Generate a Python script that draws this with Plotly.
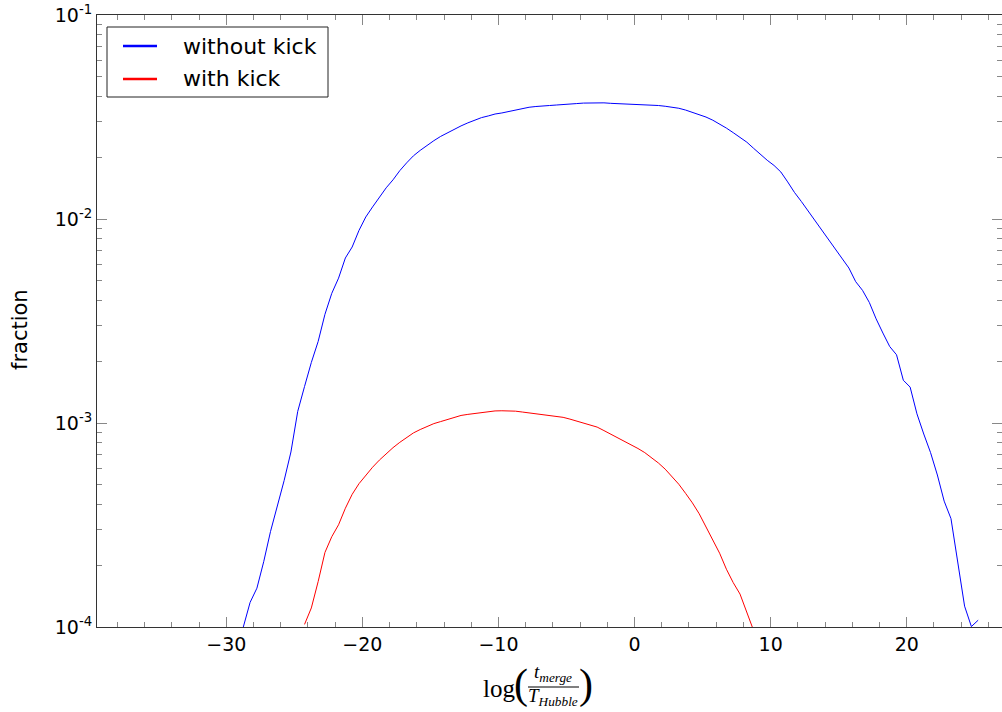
import numpy as np
import plotly.graph_objects as go

# ---------------- data ----------------
bin_width = 0.5
blue_first_center = -28.75
blue_fraction = [
    1.00e-4,
    1.32e-4, 1.55e-4, 2.09e-4, 2.94e-4, 3.88e-4, 5.22e-4, 7.21e-4, 1.14e-3,
    1.51e-3, 1.98e-3, 2.51e-3, 3.41e-3, 4.32e-3, 5.13e-3, 6.44e-3, 7.29e-3,
    8.79e-3, 1.023e-2, 1.146e-2, 1.282e-2, 1.422e-2, 1.556e-2, 1.726e-2, 1.884e-2,
    2.04e-2, 2.17e-2, 2.30e-2, 2.42e-2, 2.54e-2, 2.65e-2, 2.75e-2, 2.86e-2,
    2.96e-2, 3.05e-2, 3.14e-2, 3.20e-2, 3.27e-2, 3.31e-2, 3.37e-2, 3.42e-2,
    3.48e-2, 3.53e-2, 3.56e-2, 3.57e-2, 3.60e-2, 3.62e-2, 3.65e-2, 3.66e-2,
    3.68e-2, 3.70e-2, 3.71e-2, 3.72e-2, 3.71e-2, 3.69e-2, 3.68e-2, 3.67e-2,
    3.66e-2, 3.65e-2, 3.63e-2, 3.61e-2, 3.60e-2, 3.57e-2, 3.53e-2, 3.49e-2,
    3.42e-2, 3.34e-2, 3.25e-2, 3.16e-2, 3.05e-2, 2.92e-2, 2.79e-2, 2.65e-2,
    2.52e-2, 2.38e-2, 2.22e-2, 2.07e-2, 1.94e-2, 1.83e-2, 1.70e-2, 1.52e-2,
    1.35e-2, 1.22e-2, 1.096e-2, 9.89e-3, 8.87e-3, 7.98e-3, 7.16e-3, 6.49e-3,
    5.75e-3, 4.93e-3, 4.47e-3, 3.90e-3, 3.24e-3, 2.76e-3, 2.37e-3, 2.16e-3,
    1.62e-3, 1.50e-3, 1.109e-3, 8.83e-4, 7.16e-4, 5.56e-4, 4.14e-4, 3.40e-4,
    2.02e-4, 1.265e-4, 1.005e-4, 1.08e-4,
]
red_first_center = -24.25
red_fraction = [
    1.03e-4, 1.24e-4, 1.67e-4, 2.32e-4, 2.77e-4, 3.17e-4, 3.82e-4, 4.47e-4,
    5.04e-4, 5.57e-4, 6.07e-4, 6.58e-4, 7.08e-4, 7.57e-4, 8.04e-4, 8.49e-4,
    8.94e-4, 9.29e-4, 9.64e-4, 9.93e-4, 1.016e-3, 1.040e-3, 1.064e-3, 1.089e-3,
    1.102e-3, 1.114e-3, 1.125e-3, 1.135e-3, 1.146e-3, 1.148e-3, 1.148e-3, 1.143e-3,
    1.132e-3, 1.122e-3, 1.112e-3, 1.099e-3, 1.089e-3, 1.076e-3, 1.066e-3, 1.045e-3,
    1.023e-3, 1.000e-3, 9.78e-4, 9.55e-4, 9.18e-4, 8.83e-4, 8.49e-4, 8.18e-4,
    7.85e-4, 7.50e-4, 7.16e-4, 6.76e-4, 6.37e-4, 5.94e-4, 5.46e-4, 5.01e-4,
    4.52e-4, 4.06e-4, 3.59e-4, 3.10e-4, 2.67e-4, 2.30e-4, 1.92e-4, 1.65e-4,
    1.45e-4, 1.18e-4, 9.6e-5,
]
series_names = ["without kick", "with kick"]
series_colors = ["#0000ff", "#ff0000"]
x_tick_values = [-30, -20, -10, 0, 10, 20]
y_tick_values = [1e-4, 1e-3, 1e-2, 1e-1]
y_tick_labels = ["10<sup>-4</sup>", "10<sup>-3</sup>", "10<sup>-2</sup>", "10<sup>-1</sup>"]

blue_x = blue_first_center + bin_width * np.arange(len(blue_fraction))
red_x = red_first_center + bin_width * np.arange(len(red_fraction))

# ---------------- figure ----------------
W, H = 1002, 712
L, R, T, B = 97, 0, 15, 85
pw, ph = W - L - R, H - T - B


def px(xp):
    return (xp - L) / pw


def py(yp):
    return (H - B - yp) / ph


fig = go.Figure()
fig.add_trace(go.Scatter(x=blue_x, y=blue_fraction, mode="lines", name=series_names[0],
                         line=dict(color=series_colors[0], width=1), showlegend=False))
fig.add_trace(go.Scatter(x=red_x, y=red_fraction, mode="lines", name=series_names[1],
                         line=dict(color=series_colors[1], width=1), showlegend=False))

font = "DejaVu Sans"
fig.update_layout(
    width=W, height=H,
    margin=dict(l=L, r=R, t=T, b=B),
    paper_bgcolor="white", plot_bgcolor="white",
    font=dict(family=font, size=19, color="black"),
    showlegend=False,
)
fig.update_xaxes(
    range=[-39.5, 27], showgrid=False, zeroline=False,
    showline=True, linecolor="#333", linewidth=1, mirror="ticks",
    ticks="inside", ticklen=10, tickcolor="#888", tickwidth=1,
    tickvals=x_tick_values,
    minor=dict(dtick=2, ticks="inside", ticklen=5, tickcolor="#888", showgrid=False),
    tickfont=dict(size=19, family=font),
)
minor_y = [m * 10.0 ** e for e in (-4, -3, -2) for m in range(2, 10)]
fig.update_yaxes(
    type="log", range=[-4, -1], showgrid=False, zeroline=False,
    showline=True, linecolor="#333", linewidth=1, mirror="ticks",
    ticks="inside", ticklen=10, tickcolor="#888", tickwidth=1,
    tickvals=y_tick_values, ticktext=y_tick_labels,
    minor=dict(tickvals=minor_y, ticks="inside", ticklen=5, tickcolor="#888", showgrid=False),
    tickfont=dict(size=19, family=font),
)

# legend (drawn by hand to match the reference layout)
fig.add_shape(type="rect", xref="paper", yref="paper",
              x0=px(107), x1=px(328), y0=py(27), y1=py(97),
              line=dict(color="#222", width=1), fillcolor="white", layer="above")
for i, (name, col) in enumerate(zip(series_names, series_colors)):
    yy = [46, 79][i]
    fig.add_shape(type="line", xref="paper", yref="paper",
                  x0=px(123), x1=px(157), y0=py(yy), y1=py(yy),
                  line=dict(color=col, width=2.5), layer="above")
    fig.add_annotation(text=name, x=px(181), y=py(yy), xref="paper", yref="paper",
                       showarrow=False, font=dict(size=22, family=font),
                       xanchor="left", yanchor="middle")

# y title
fig.add_annotation(text="fraction", x=px(20), y=py(330), xref="paper", yref="paper",
                   showarrow=False, textangle=-90, font=dict(size=21, family=font),
                   xanchor="center", yanchor="middle")

# x title: log( t_merge / T_Hubble )
serif = "Liberation Serif"
fig.add_annotation(text="log", x=px(499), y=py(688), xref="paper", yref="paper",
                   showarrow=False, font=dict(size=25, family=serif),
                   xanchor="center", yanchor="middle")
fig.add_annotation(text="(", x=px(521), y=py(684), xref="paper", yref="paper",
                   showarrow=False, font=dict(size=42, family=serif),
                   xanchor="center", yanchor="middle")
fig.add_annotation(text=")", x=px(586), y=py(684), xref="paper", yref="paper",
                   showarrow=False, font=dict(size=42, family=serif),
                   xanchor="center", yanchor="middle")
fig.add_annotation(text="<i>t</i><sub><i>merge</i></sub>", x=px(553), y=py(673),
                   xref="paper", yref="paper", showarrow=False,
                   font=dict(size=19, family=serif), xanchor="center", yanchor="middle")
fig.add_annotation(text="<i>T</i><sub><i>Hubble</i></sub>", x=px(553), y=py(697),
                   xref="paper", yref="paper", showarrow=False,
                   font=dict(size=19, family=serif), xanchor="center", yanchor="middle")
fig.add_shape(type="line", xref="paper", yref="paper",
              x0=px(528), x1=px(579), y0=py(687), y1=py(687),
              line=dict(color="black", width=1.2))

fig.write_html("out.html")
